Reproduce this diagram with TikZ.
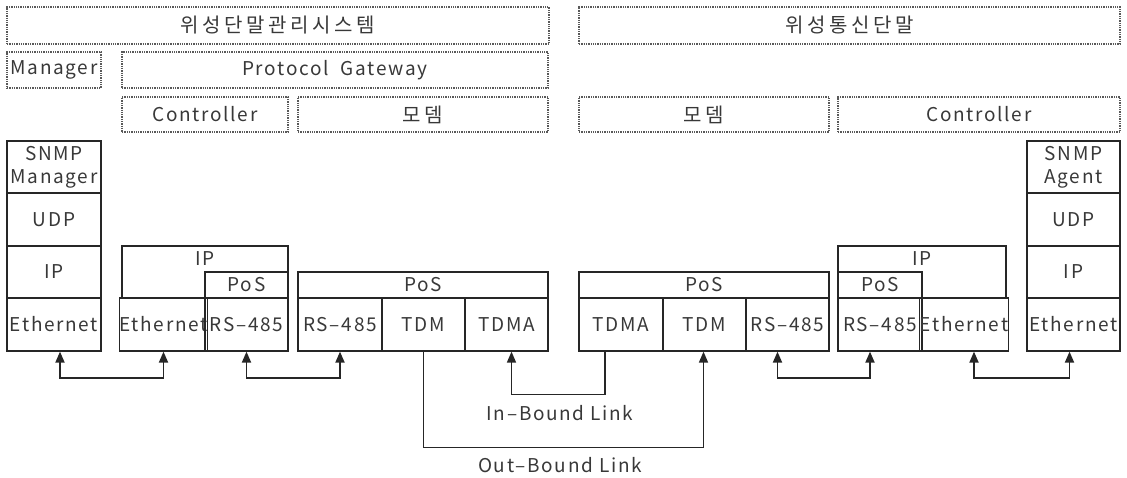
\documentclass[tikz,border=0pt]{standalone}
\usepackage{fontspec}
\setmainfont{Noto Sans CJK KR}[LetterSpace=9]
\newfontfamily\kor{Noto Sans CJK KR}[LetterSpace=18]
\usetikzlibrary{arrows.meta}

\tikzset{
  lbl/.style={text=black!78, font=\fontsize{19}{23}\selectfont, align=center},
  layer/.style={lbl, draw=black!85, line width=1.2pt, inner sep=0pt},
  group/.style={lbl, draw=black!65, line width=1.3pt, densely dotted, inner sep=0pt},
  biarrow/.style={line width=1.8pt, draw=black!85, {Triangle[length=11pt,width=9pt]}-{Triangle[length=11pt,width=9pt]}},
  link/.style={line width=1.5pt, draw=black!85, -{Triangle[length=11pt,width=9pt]}},
}
% box from corner (x1,y1) to corner (x2,y2)
\newcommand{\blk}[7]{\node[#1, minimum width={(#5-#3)*1pt}, minimum height={(#6-#4)*1pt}] (#2) at ({(#3+#5)/2},{(#4+#6)/2}) {#7};}

\begin{document}
\begin{tikzpicture}[x=1pt, y=-1pt]
\useasboundingbox (0,0) rectangle (1127,477);

% dotted group boxes
\blk{group}{sysM}{7}{7}{549}{44}{\kor\fontsize{20}{24}\selectfont 위성단말관리시스템}
\blk{group}{sysT}{579}{7}{1120}{44}{\kor\fontsize{20}{24}\selectfont 위성통신단말}
\blk{group}{mgr}{7}{52}{101}{88}{Manager}
\blk{group}{pgw}{122}{52}{548}{88}{Protocol\ \ Gateway}
\blk{group}{ctlL}{122}{97}{288}{132}{Controller}
\blk{group}{modL}{298}{97}{548}{132}{\kor\fontsize{20}{24}\selectfont 모뎀}
\blk{group}{modR}{579}{97}{829}{132}{\kor\fontsize{20}{24}\selectfont 모뎀}
\blk{group}{ctlR}{838}{97}{1120}{132}{Controller}

% manager stack
\blk{layer}{snmpM}{7}{141}{101}{193}{SNMP\\Manager}
\blk{layer}{udpM}{7}{193}{101}{246}{UDP}
\blk{layer}{ipM}{7}{246}{101}{298}{IP}
\blk{layer}{ethM}{7}{298}{101}{351}{Ethernet}

% gateway controller
\blk{layer}{ipG}{122}{246}{288}{298}{}
\node[lbl] (ipGtxt) at (205,259) {IP};
\blk{layer}{posG}{205}{272}{288}{298}{PoS}
\blk{layer}{ethG}{122}{298}{205}{351}{Ethernet}
\blk{layer}{rsG}{205}{298}{288}{351}{RS--485}

% gateway modem
\blk{layer}{posGM}{298}{272}{548}{298}{PoS}
\blk{layer}{rsGM}{298}{298}{382}{351}{RS--485}
\blk{layer}{tdmGM}{382}{298}{465}{351}{TDM}
\blk{layer}{tdmaGM}{465}{298}{548}{351}{TDMA}

% terminal modem
\blk{layer}{posTM}{579}{272}{829}{298}{PoS}
\blk{layer}{tdmaTM}{579}{298}{663}{351}{TDMA}
\blk{layer}{tdmTM}{663}{298}{746}{351}{TDM}
\blk{layer}{rsTM}{746}{298}{829}{351}{RS--485}

% terminal controller
\blk{layer}{ipT}{838}{246}{1006}{298}{}
\node[lbl] (ipTtxt) at (922,259) {IP};
\blk{layer}{posT}{838}{272}{922}{298}{PoS}
\blk{layer}{rsT}{838}{298}{922}{351}{RS--485}
\blk{layer}{ethT}{922}{298}{1006}{351}{Ethernet}

% agent stack
\blk{layer}{snmpA}{1027}{141}{1120}{193}{SNMP\\Agent}
\blk{layer}{udpA}{1027}{193}{1120}{246}{UDP}
\blk{layer}{ipA}{1027}{246}{1120}{298}{IP}
\blk{layer}{ethA}{1027}{298}{1120}{351}{Ethernet}

% local links
\draw[biarrow] ([xshift=6]ethM.south) -- ++(0,26) -| (ethG.south);
\draw[biarrow] (rsG.south) -- ++(0,26) -| (rsGM.south);
\draw[biarrow] ([xshift=-10]rsTM.south) -- ++(0,26) -| ([xshift=-10]rsT.south);
\draw[biarrow] ([xshift=10]ethT.south) -- ++(0,26) -| ([xshift=-4]ethA.south);

% satellite links
\draw[link] ([xshift=-16]tdmaTM.south) -- ++(0,43) -| ([xshift=5]tdmaGM.south);
\draw[link] (tdmGM.south) -- ++(0,96) -| ([xshift=-1]tdmTM.south);
\node[lbl] (inLink) at (560,413) {In--Bound Link};
\node[lbl] (outLink) at (560,465) {Out--Bound Link};
\end{tikzpicture}
\end{document}
